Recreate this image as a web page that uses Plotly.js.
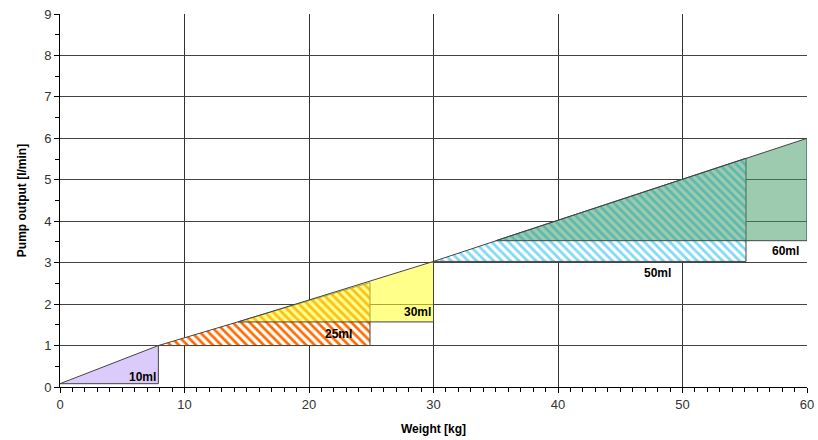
<!DOCTYPE html>
<html>
<head>
<meta charset="utf-8">
<script src="https://cdn.plot.ly/plotly-3.0.1.min.js"></script>
<style>html,body{margin:0;padding:0;background:#fff;}#chart{width:818px;height:440px;}</style>
</head>
<body>
<div id="chart"></div>
<script>
// Syringe size regions: polygon vertices (weight kg, pump output l/min)
const labels = ["10ml", "25ml", "30ml", "50ml", "60ml"];
const weight10 = [0, 7.9, 7.9, 0];
const output10 = [0.08, 1.0, 0.08, 0.08];
const weight25 = [7.9, 24.9, 24.9, 7.9];
const output25 = [1.0, 2.52, 1.0, 1.0];
const weight30 = [14.3, 30, 30, 14.3];
const output30 = [1.57, 3.03, 1.57, 1.57];
const weight50 = [30, 55.1, 55.1, 30];
const output50 = [3.03, 5.52, 3.03, 3.03];
const weight60 = [35, 60, 60, 35];
const output60 = [3.53, 6.0, 3.53, 3.53];
const labelX = [6.6, 22.4, 28.75, 48.0, 58.3];
const labelY = [0.25, 1.27, 1.82, 2.76, 3.29];

const outline = {color: '#444', width: 1};
const traces = [
  {x: weight10, y: output10, fill: 'toself', fillcolor: 'rgba(190,160,245,0.55)'},
  {x: weight25, y: output25, fill: 'toself', fillcolor: 'rgba(0,0,0,0)',
   fillpattern: {shape: '\\', fgcolor: '#FF6A00', bgcolor: '#ffffff', size: 6, solidity: 0.45}},
  {x: weight30, y: output30, fill: 'toself', fillcolor: 'rgba(255,255,40,0.55)'},
  {x: weight50, y: output50, fill: 'toself', fillcolor: 'rgba(0,0,0,0)',
   fillpattern: {shape: '\\', fgcolor: '#7ED8F6', bgcolor: '#ffffff', size: 6, solidity: 0.45}},
  {x: weight60, y: output60, fill: 'toself', fillcolor: 'rgba(57,151,97,0.5)'}
].map((t, i) => Object.assign({type: 'scatter', mode: 'lines', line: outline, name: labels[i], hoverinfo: 'skip'}, t));

const annotations = labels.map((t, i) => ({
  x: labelX[i], y: labelY[i], xref: 'x', yref: 'y', text: t, showarrow: false,
  font: {family: 'Liberation Sans, Arial, sans-serif', size: 12, color: '#000', weight: 'bold'}
}));

const tickFont = {family: 'Liberation Sans Narrow, Liberation Sans, Arial, sans-serif', size: 13, color: '#333'};
const titleFont = {family: 'Liberation Sans, Arial, sans-serif', size: 12, color: '#000', weight: 'bold'};

const layout = {
  width: 818, height: 440,
  margin: {l: 60, r: 11, t: 14, b: 53},
  paper_bgcolor: '#fff', plot_bgcolor: '#fff',
  showlegend: false,
  xaxis: {
    range: [0, 60], dtick: 10, tick0: 0, showgrid: true, gridcolor: '#333', gridwidth: 1,
    zeroline: false, showline: true, linecolor: '#000', linewidth: 1,
    ticks: 'outside', ticklen: 5, tickcolor: '#000',
    minor: {dtick: 1, ticks: 'outside', ticklen: 4, tickcolor: '#000', showgrid: false},
    tickfont: tickFont, title: {text: 'Weight [kg]', font: titleFont, standoff: 14}
  },
  yaxis: {
    range: [0, 9], dtick: 1, tick0: 0, showgrid: true, gridcolor: '#444', gridwidth: 1,
    zeroline: false, showline: true, linecolor: '#000', linewidth: 1,
    ticks: 'outside', ticklen: 5, tickcolor: '#000',
    minor: {dtick: 0.5, ticks: 'outside', ticklen: 4, tickcolor: '#000', showgrid: false},
    tickfont: tickFont, title: {text: 'Pump output [l/min]', font: titleFont, standoff: 14}
  },
  annotations: annotations
};

Plotly.newPlot('chart', traces, layout, {displayModeBar: false, staticPlot: true});
</script>
</body>
</html>
